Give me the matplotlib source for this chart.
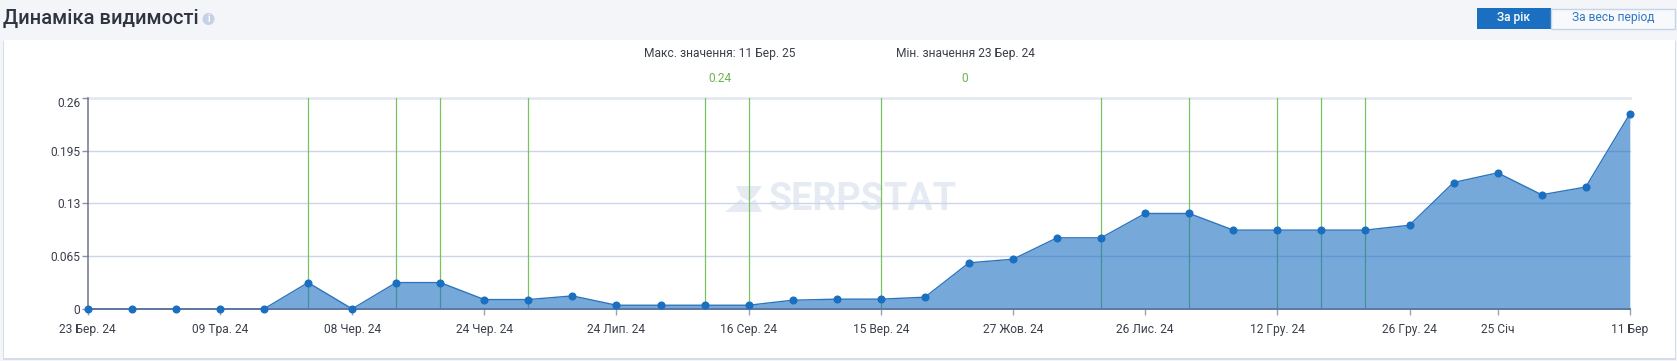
import matplotlib
matplotlib.use("Agg")
import matplotlib.pyplot as plt
from matplotlib.patches import Rectangle, Circle, Polygon
from matplotlib.transforms import offset_copy

W, H = 1677, 361

values = [0, 0, 0, 0, 0, 0.0324, 0, 0.0324, 0.0324, 0.0115, 0.0115, 0.016,
          0.0045, 0.0045, 0.0045, 0.0045, 0.0107, 0.012, 0.012, 0.0144,
          0.0567, 0.0612, 0.0875, 0.0875, 0.1175, 0.1175, 0.097, 0.097,
          0.097, 0.097, 0.103, 0.1556, 0.1675, 0.1405, 0.150, 0.24]
tick_idx = [0, 3, 6, 9, 12, 15, 18, 21, 24, 27, 30, 32, 35]
tick_labels = ["23 Бер. 24", "09 Тра. 24", "08 Чер. 24", "24 Чер. 24", "24 Лип. 24",
               "16 Сер. 24", "15 Вер. 24", "27 Жов. 24", "26 Лис. 24", "12 Гру. 24",
               "26 Гру. 24", "25 Січ", "11 Бер"]
y_ticks = [0, 0.065, 0.13, 0.195, 0.26]
y_labels = ["0", "0.065", "0.13", "0.195", "0.26"]
event_idx = [5, 7, 8, 10, 14, 15, 18, 23, 25, 27, 28, 29]

plt.rcParams['font.family'] = ['Roboto', 'DejaVu Sans']
fig = plt.figure(figsize=(W / 100, H / 100), dpi=100, facecolor='#f3f5f9')

bg = fig.add_axes([0, 0, 1, 1])
bg.set_xlim(0, W); bg.set_ylim(H, 0); bg.axis('off')
bg.add_patch(Rectangle((3, 41), 1673, 318.5, fc='#d5dde9', ec='none'))
bg.add_patch(Rectangle((4, 40), 1671, 318, fc='white', ec='none'))

# title and buttons
TXT = 8.65
bg.text(3, 18.5, "Динаміка видимості", fontsize=14.5, fontweight='medium', color='#2f3440', va='center', ha='left')
bg.add_patch(Circle((208.5, 19), 6, fc='#c5d2e5', ec='none'))
bg.text(208.5, 19, "i", fontsize=7, color='white', ha='center', va='center', fontweight='bold')
bg.add_patch(Rectangle((1477, 8), 74, 21, fc='#1b6fc0', ec='none'))
bg.add_patch(Rectangle((1551, 8.5), 124, 20.5, fc='#f7f9fc', ec='#c5d5e8', lw=1))
bg.text(1514, 18, "За рік", fontsize=TXT, fontweight='medium', color='white', ha='center', va='center')
bg.text(1613, 18, "За весь період", fontsize=TXT, color='#2f78c2', ha='center', va='center')

# summary
bg.text(720, 53.5, "Макс. значення: 11 Бер. 25", fontsize=TXT, color='#3a3f4a', ha='center', va='center')
bg.text(720, 78, "0.24", fontsize=TXT, color='#6db650', ha='center', va='center')
bg.text(965, 53.5, "Мін. значення 23 Бер. 24", fontsize=TXT, color='#3a3f4a', ha='center', va='center')
bg.text(965, 78, "0", fontsize=TXT, color='#6db650', ha='center', va='center')

# watermark
WM = '#e6ebf3'
bg.text(769, 199.5, "SERPSTAT", fontsize=27.2, fontweight='bold', ha='left', va='center', color=WM)
for pts in ([(736, 186), (762, 186), (755, 196), (749, 201), (741, 197)],
            [(725, 212), (741, 199), (747, 205), (755, 199), (762, 212), (745, 212)]):
    bg.add_patch(Polygon(pts, closed=True, fc=WM, ec='none'))

# plot area
L, R, T, B = 87.8, 1629.8, 97.7, 308.9
ax = fig.add_axes([L / W, 1 - B / H, (R - L) / W, (B - T) / H], facecolor='none')
x = list(range(len(values)))
ax.set_xlim(0, len(values) - 1)
ax.set_ylim(0, 0.26)

for v in y_ticks[1:]:
    ax.axhline(v, color='#e4e9f0' if v == 0.26 else '#ccd6eb', lw=2 if v == 0.26 else 1, zorder=1, clip_on=False)

ax.fill_between(x, values, 0, color='#1b6fc0', alpha=0.6, lw=0, zorder=3)
for i in event_idx:
    ax.axvline(i, color='#7cc160', lw=0.9, zorder=2)
ax.plot(x, values, color='#2a75bd', lw=1.0, zorder=4, clip_on=False)
ax.plot(x, values, ls='none', marker='o', ms=4.8, mfc='#1b6fc0', mec='#1b6fc0', zorder=5, clip_on=False)

for s in ('top', 'right'):
    ax.spines[s].set_visible(False)
ax.spines['left'].set_color('#6f7685')
ax.spines['left'].set_linewidth(1.1)
ax.spines['bottom'].set_color('#5f78a0')
ax.spines['bottom'].set_linewidth(1.4)
ax.spines['bottom'].set_zorder(4)

ax.set_xticks(tick_idx, tick_labels)
ax.tick_params(axis='x', length=4.3, width=1, color='#99a3b3', labelsize=TXT, labelcolor='#3a3f4a', pad=5.6)
ax.set_yticks(y_ticks, y_labels)
ax.tick_params(axis='y', length=4.3, width=1, color='#8a93a3', labelsize=TXT, labelcolor='#3a3f4a', pad=1, direction='out')
top = ax.get_yticklabels()[-1]
top.set_transform(offset_copy(top.get_transform(), fig=fig, y=-3.1, units='points'))

fig.savefig("out.png", dpi=100, facecolor=fig.get_facecolor())
